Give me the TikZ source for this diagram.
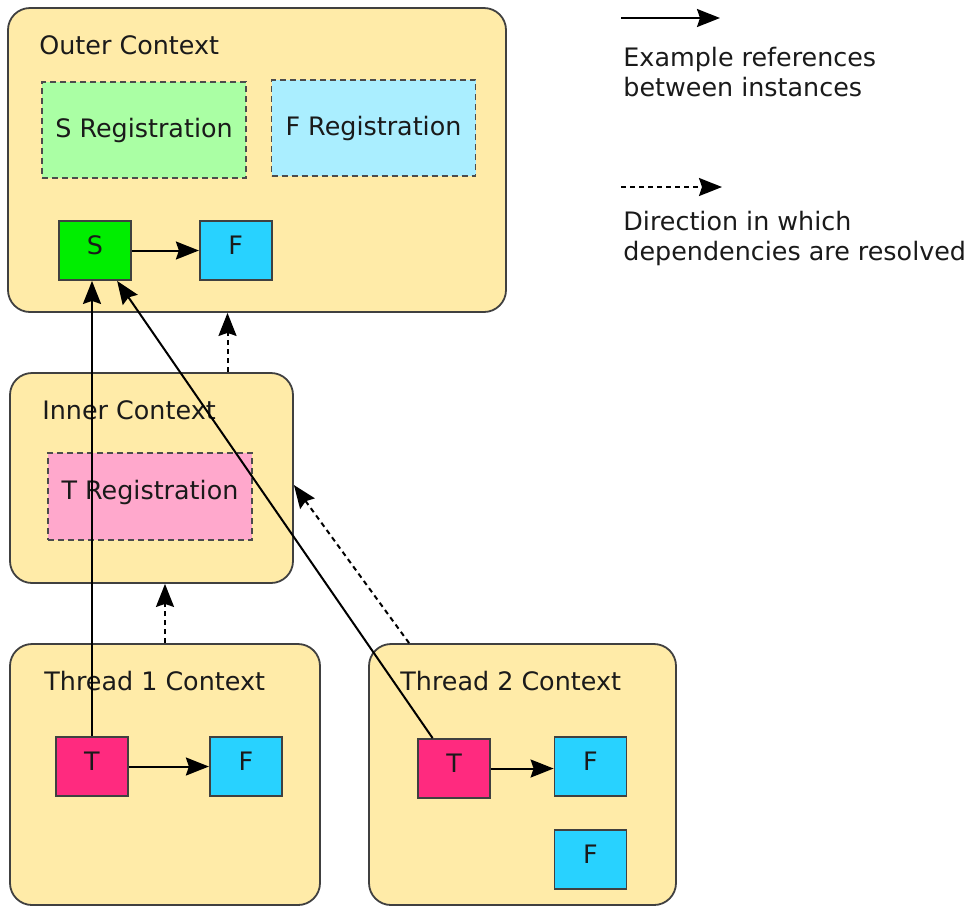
\documentclass[tikz,border=0pt]{standalone}
\usepackage{fontspec}
\setmainfont{DejaVu Sans}
\usepackage{xcolor}
\usetikzlibrary{arrows.meta, positioning, calc}
\definecolor{ctxfill}{HTML}{FFEBA8}
\definecolor{sregfill}{HTML}{AAFFA4}
\definecolor{fregfill}{HTML}{AAEEFF}
\definecolor{tregfill}{HTML}{FFA8CC}
\definecolor{sfill}{HTML}{00EE00}
\definecolor{ffill}{HTML}{28D2FF}
\definecolor{tfill}{HTML}{FF2A7F}
\definecolor{ink}{HTML}{1A1A1A}
\tikzstyle{arrow} = [-{Stealth[length=11.5pt,width=9pt,inset=1.5pt]}, line width=1pt]
\tikzstyle{dep-arrow} = [arrow, dash pattern=on 2.5pt off 2pt]
\tikzstyle{context} = [rectangle, rounded corners=11pt, draw=black!75, line width=0.9pt, fill=ctxfill]
\tikzstyle{reg} = [rectangle, draw=black!70, line width=0.8pt, dash pattern=on 3pt off 2pt, minimum width=102pt]
\tikzstyle{inst} = [rectangle, draw=black!75, line width=0.9pt, minimum width=36pt, minimum height=29.5pt, text depth=5pt]
\tikzstyle{title} = [anchor=base west, inner sep=0pt]

\begin{document}
\begin{tikzpicture}[x=0.5pt, y=-0.5pt, font=\fontsize{12.7}{15}\selectfont, text=ink]
  \useasboundingbox (0,0) rectangle (972,907);

  % Contexts
  \node (outer) [context, minimum width=249pt, minimum height=152pt] at (257,160) {};
  \node (inner) [context, minimum width=141.5pt, minimum height=105pt] at (151.5,478) {};
  \node (thread1) [context, minimum width=155pt, minimum height=130.5pt] at (165,774.5) {};
  \node (thread2) [context, minimum width=153.5pt, minimum height=130.5pt] at (522.5,774.5) {};

  \node [title] at (39,54) {Outer Context};
  \node [title] at (42,419) {Inner Context};
  \node [title] at (44,690) {Thread 1 Context};
  \node [title] at (400,690) {Thread 2 Context};

  % Registrations
  \node (sreg) [reg, fill=sregfill, minimum height=48pt] at (144,130) {S Registration};
  \node (freg) [reg, fill=fregfill, minimum height=48pt] at (373.5,128) {F Registration};
  \node (treg) [reg, fill=tregfill, minimum height=43.5pt] at (150,496.5) {\raisebox{7pt}{T Registration}};

  % Instances
  \node (s) [inst, fill=sfill] at (95,250.5) {S};
  \node (f) [inst, fill=ffill, right=33.5pt of s] {F};
  \node (t1) [inst, fill=tfill] at (92,766.5) {T};
  \node (f1) [inst, fill=ffill, right=40pt of t1] {F};
  \node (t2) [inst, fill=tfill] at (454,768.5) {T};
  \node (f2) [inst, fill=ffill] at (590.5,766.5) {F};
  \node (f3) [inst, fill=ffill, below=16pt of f2] {F};

  % References
  \draw[arrow] (s) -- (f);
  \draw[arrow] (t1) -- (t1 -| f1.west);
  \draw[arrow] (t2) -- (t2 -| f2.west);
  \draw[arrow] (t1.north) -- (t1.north |- s.south);
  \draw[arrow] ($(t2.north west)!0.21!(t2.north east)$) -- ($(s.south west)!0.8!(s.south east)$);

  % Resolution
  \draw[dep-arrow] ([xshift=38pt]inner.north) -- ([xshift=38pt]inner.north |- outer.south);
  \draw[dep-arrow] (thread1.north) -- (thread1.north |- inner.south);
  \draw[dep-arrow] ([xshift=20.5pt]thread2.north west) -- ([yshift=-3.5pt]inner.east);

  % Legend
  \coordinate (ref-a) at (621,18);
  \coordinate (ref-b) at (720,18);
  \coordinate (dep-a) at (621,187);
  \coordinate (dep-b) at (722,187);
  \draw[arrow] (ref-a) -- (ref-b);
  \draw[dep-arrow] (dep-a) -- (dep-b);
  \node (ref-text) [anchor=north west, inner sep=0pt, align=left] at (623,47) {Example references\\between instances};
  \node (dep-text) [anchor=north west, inner sep=0pt, align=left] at (623,211) {Direction in which\\dependencies are resolved};

\end{tikzpicture}
\end{document}
